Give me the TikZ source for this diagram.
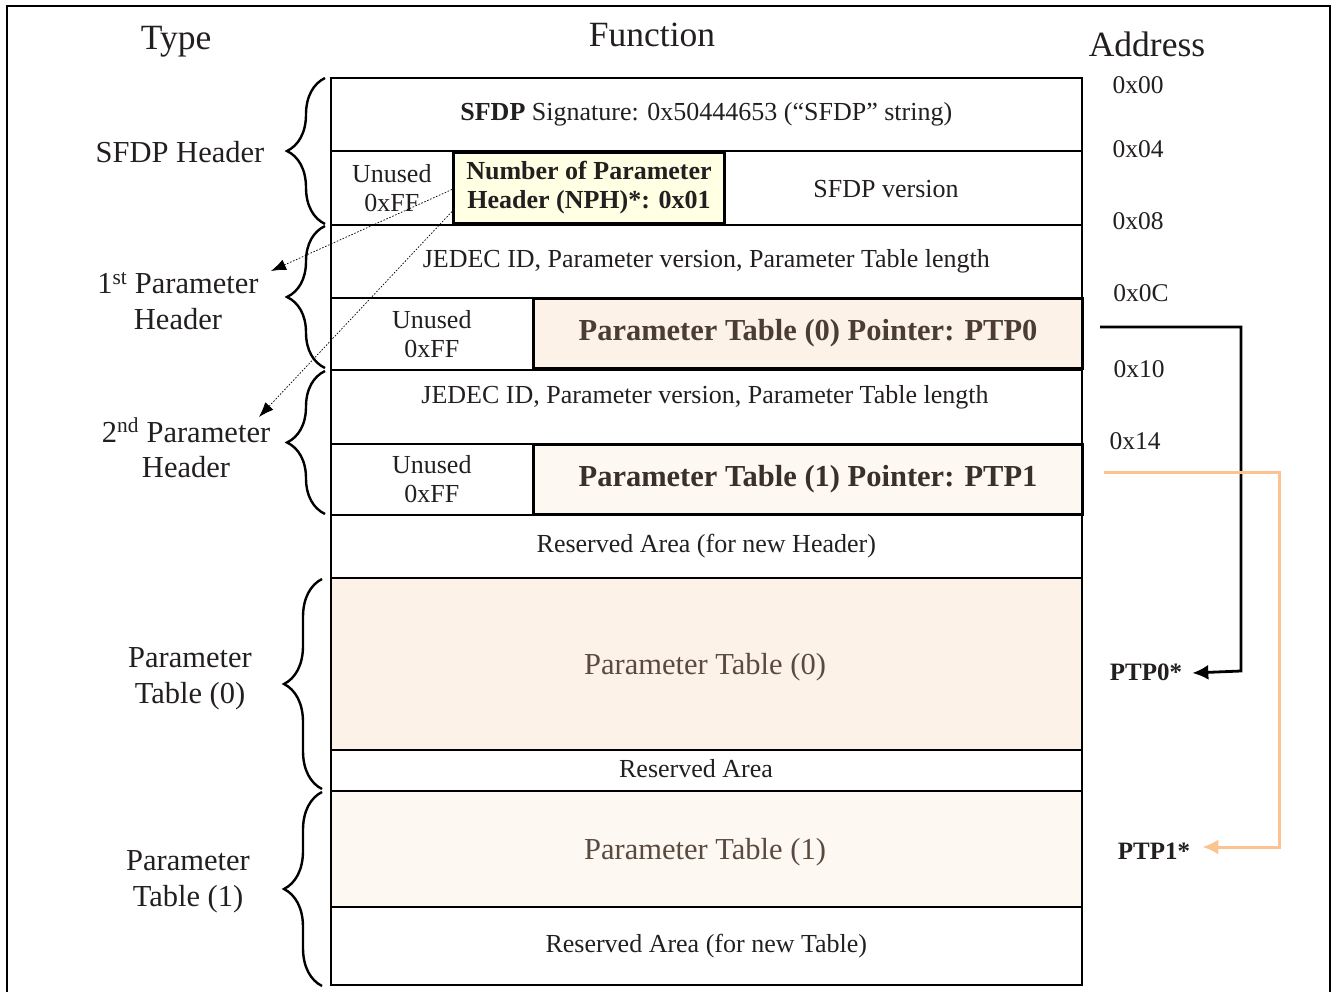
\documentclass[tikz,border=0pt]{standalone}
\usepackage{fontspec}
\setmainfont{Liberation Serif}
\usetikzlibrary{decorations.pathreplacing,arrows.meta,calc}
\newcommand\fsz[2]{\fontsize{#1}{#2}\selectfont}
\definecolor{txt}{HTML}{231F20}
\definecolor{ptfillA}{HTML}{FDF2E8}
\definecolor{ptfillB}{HTML}{FDF8F1}
\definecolor{nphfill}{HTML}{FFFFE3}
\definecolor{ptxtA}{HTML}{4B3D33}
\definecolor{ptxtB}{HTML}{3A302A}
\definecolor{ptbig}{HTML}{5A4A40}
\definecolor{orng}{HTML}{FBC390}
\tikzset{
  cell/.style={draw, line width=1.6pt, inner sep=0pt, anchor=north west, align=center, text=txt, font=\fsz{26}{29}},
  hbox/.style={draw, line width=3pt, inner sep=0pt, anchor=north west, align=center},
  brc/.style={decorate, decoration={brace, amplitude=38pt}, line width=2.4pt},
  lbl/.style={align=center, text=txt, inner sep=0pt, font=\fsz{30.5}{35.5}},
  addr/.style={text=txt, inner sep=0pt, font=\fsz{25.5}{29}},
  ttl/.style={text=txt, inner sep=0pt, anchor=base, font=\fsz{35.5}{40}},
  ptr/.style={text=txt, inner sep=0pt, font=\bfseries\fsz{25}{29}},
  dotarrow/.style={dash pattern=on 1.6pt off 1.6pt, line width=0.7pt, -{Latex[length=15pt,width=11pt]}},
  ptrarrow/.style={line width=2.8pt, -{Latex[length=16pt,width=15pt]}},
}
\begin{document}
\begin{tikzpicture}[x=1pt,y=-1pt]
\useasboundingbox (0,0) rectangle (1336,992);
% outer frame
\draw[line width=1.6pt] (7,1010) -- (7,6) -- (1330,6) -- (1330,1010);
% titles
\node[ttl] (tType) at (176,50) {Type};
\node[ttl] (tFunc) at (652,47) {Function};
\node[ttl] (tAddr) at (1147,57) {Address};
% rows
\node[cell, minimum width=751pt, minimum height=73pt] (sig) at (330,77) {\textbf{SFDP} Signature: 0x50444653 (“SFDP” string)};
\node[cell, minimum width=122pt, minimum height=74pt] (un0) at (330,150) {Unused\\0xFF};
\node[cell, minimum width=629pt, minimum height=74pt] (verc) at (452,150) {};
\node[text=txt, inner sep=0pt, font=\fsz{26}{29}] (ver) at (886,189) {SFDP version};
\node[cell, minimum width=751pt, minimum height=73pt] (jed1) at (330,224) {JEDEC ID, Parameter version, Parameter Table length};
\node[cell, minimum width=202pt, minimum height=72pt] (un1) at (330,297) {Unused\\0xFF};
\node[cell, minimum width=751pt, minimum height=74pt] (jed2c) at (330,369) {};
\node[text=txt, inner sep=0pt, font=\fsz{26}{29}] (jed2) at (705,397) {JEDEC ID, Parameter version, Parameter Table length};
\node[cell, minimum width=202pt, minimum height=71pt] (un2) at (330,443) {Unused\\0xFF};
\node[cell, minimum width=751pt, minimum height=63pt] (res1) at (330,514) {Reserved Area (for new Header)};
\node[cell, fill=ptfillA, minimum width=751pt, minimum height=172pt] (pt0c) at (330,577) {};
\node[text=ptbig, inner sep=0pt, font=\fsz{30.5}{35}] (pt0) at (705,667) {Parameter Table (0)};
\node[cell, minimum width=751pt, minimum height=41pt] (res2c) at (330,749) {};
\node[text=txt, inner sep=0pt, font=\fsz{26}{29}] (res2) at (696,769) {Reserved Area};
\node[cell, fill=ptfillB, minimum width=751pt, minimum height=116pt] (pt1c) at (330,790) {};
\node[text=ptbig, inner sep=0pt, font=\fsz{30.5}{35}] (pt1) at (705,852) {Parameter Table (1)};
\node[cell, minimum width=751pt, minimum height=78pt] (res3) at (330,906) {Reserved Area (for new Table)};
% highlighted boxes
\node[hbox, fill=nphfill, minimum width=271pt, minimum height=71pt, text=txt, font=\bfseries\fsz{26}{29}] (nph) at (452,151) {Number of Parameter\\Header (NPH)*: 0x01};
\node[hbox, fill=ptfillA, minimum width=549pt, minimum height=70pt, text=ptxtA, font=\bfseries\fsz{30.5}{35}] (ptp0) at (532,297) {Parameter Table (0) Pointer: PTP0};
\node[hbox, fill=ptfillB, minimum width=549pt, minimum height=70pt, text=ptxtB, font=\bfseries\fsz{30.5}{35}] (ptp1) at (532,443) {Parameter Table (1) Pointer: PTP1};
% braces
\draw[brc] (325,224) -- (325,78);
\draw[brc] (325,368) -- (325,226);
\draw[brc] (325,514) -- (325,371);
\draw[brc] (322,789) -- (322,579);
\draw[brc] (322,986) -- (322,792);
% left labels
\node[lbl] (lSFDP) at (180,152) {SFDP Header};
\node[lbl] (lP1) at (178,301) {1\textsuperscript{st} Parameter\\Header};
\node[lbl] (lP2) at (186,448) {2\textsuperscript{nd} Parameter\\Header};
\node[lbl] (lT0) at (190,679) {Parameter\\Table (0)};
\node[lbl] (lT1) at (188,882) {Parameter\\Table (1)};
% addresses
\node[addr] (a00) at (1138,85) {0x00};
\node[addr] (a04) at (1138,149) {0x04};
\node[addr] (a08) at (1138,221) {0x08};
\node[addr] (a0C) at (1141,293) {0x0C};
\node[addr] (a10) at (1139,369) {0x10};
\node[addr] (a14) at (1135,441) {0x14};
\node[ptr] (q0) at (1146,672) {PTP0*};
\node[ptr] (q1) at (1154,851) {PTP1*};
% dotted arrows
\coordinate (d1) at (271,271);
\coordinate (d2) at (259,417);
\draw[dotarrow] ([yshift=-1.5pt]nph.west) -- (d1);
\draw[dotarrow] ([yshift=-23.5pt]nph.west) -- (d2);
% pointer connectors
\coordinate (s0) at (1100,327);
\coordinate (s1) at (1104,472);
\draw[ptrarrow] (s0) -- (1241,327) -- (1241,671) -- ([xshift=10pt,yshift=-1pt]q0.east);
\draw[ptrarrow, orng, line width=3pt] (s1) -- (1279,472) -- (1279,847) -- ([xshift=12pt,yshift=4pt]q1.east);
\end{tikzpicture}
\end{document}
